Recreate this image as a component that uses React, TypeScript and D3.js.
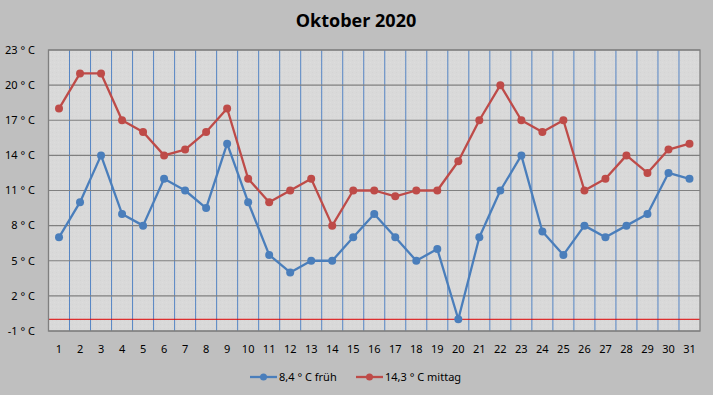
import React from "react";
import * as d3 from "d3";

const days = Array.from({ length: 31 }, (_, i) => String(i + 1));
const frueh = [7, 10, 14, 9, 8, 12, 11, 9.5, 15, 10, 5.5, 4, 5, 5, 7, 9, 7, 5, 6, 0, 7, 11, 14, 7.5, 5.5, 8, 7, 8, 9, 12.5, 12];
const mittag = [18, 21, 21, 17, 16, 14, 14.5, 16, 18, 12, 10, 11, 12, 8, 11, 11, 10.5, 11, 11, 13.5, 17, 20, 17, 16, 17, 11, 12, 14, 12.5, 14.5, 15];
const yTicks = [-1, 2, 5, 8, 11, 14, 17, 20, 23];
const title = "Oktober 2020";
const seriesNames = ["8,4 ° C früh", "14,3 ° C mittag"];
const colors = ["#4a7ebb", "#be4b48"];

const W = 713, H = 395;
const L = 48.5, R = 700, T = 50, B = 331;

export default function App() {
  const x = d3.scaleBand<string>().domain(days).range([L, R]);
  const y = d3.scaleLinear().domain([-1, 23]).range([B, T]);
  const cx = (d: string) => (x(d) as number) + x.bandwidth() / 2;
  const line = d3.line<number>().x((_, i) => cx(days[i])).y((v) => y(v));
  const font = "'Noto Sans', Tahoma, sans-serif";
  const series = [frueh, mittag];
  return (
    <svg width={W} height={H} style={{ position: "absolute", left: 0, top: 0 }} fontFamily={font}>
      <defs>
        <pattern id="tex" width="4" height="4" patternUnits="userSpaceOnUse">
          <rect width="4" height="4" fill="#d9d9d9" />
          <rect x="0" y="0" width="1" height="1" fill="#d4d4d4" />
          <rect x="2" y="2" width="1" height="1" fill="#dddddd" />
        </pattern>
      </defs>
      <rect x={0} y={0} width={W} height={H} fill="#bfbfbf" />
      <text x={356} y={27} textAnchor="middle" fontSize={18} fontWeight="bold" fill="#000" fontFamily="'Open Sans', sans-serif">{title}</text>
      <rect x={L} y={T} width={R - L} height={B - T} fill="url(#tex)" />
      {days.map((d, i) => (
        i > 0 ? <line key={"v" + d} x1={x(d)} x2={x(d)} y1={T} y2={B} stroke="#5585c4" strokeWidth={1} /> : null
      ))}
      {yTicks.map((t) => (
        <line key={"h" + t} x1={L} x2={R} y1={y(t)} y2={y(t)} stroke="#808080" strokeWidth={1.2} />
      ))}
      <line x1={L} x2={R} y1={y(0)} y2={y(0)} stroke="#e00000" strokeWidth={1} />
      <rect x={L} y={T} width={R - L} height={B - T} fill="none" stroke="#7f7f7f" strokeWidth={1.3} />
      {yTicks.map((t) => (
        <text key={"yl" + t} x={35} y={y(t)} dy="0.35em" textAnchor="end" fontSize={11} fill="#000">{t + " ° C"}</text>
      ))}
      {days.map((d) => (
        <text key={"xl" + d} x={cx(d)} y={353} textAnchor="middle" fontSize={11} fill="#000">{d}</text>
      ))}
      {series.map((s, k) => (
        <g key={"s" + k}>
          <path d={line(s) as string} fill="none" stroke={colors[k]} strokeWidth={2.3} strokeLinejoin="round" />
          {s.map((v, i) => (
            <circle key={i} cx={cx(days[i])} cy={y(v)} r={4} fill={colors[k]} />
          ))}
        </g>
      ))}
      {seriesNames.map((n, k) => {
        const lx = k === 0 ? 250 : 356;
        return (
          <g key={"lg" + k}>
            <line x1={lx} x2={lx + 27} y1={377} y2={377} stroke={colors[k]} strokeWidth={2.3} />
            <circle cx={lx + 13.5} cy={377} r={3.5} fill={colors[k]} />
            <text x={lx + 29} y={377} dy="0.35em" fontSize={11} fill="#000">{n}</text>
          </g>
        );
      })}
    </svg>
  );
}
